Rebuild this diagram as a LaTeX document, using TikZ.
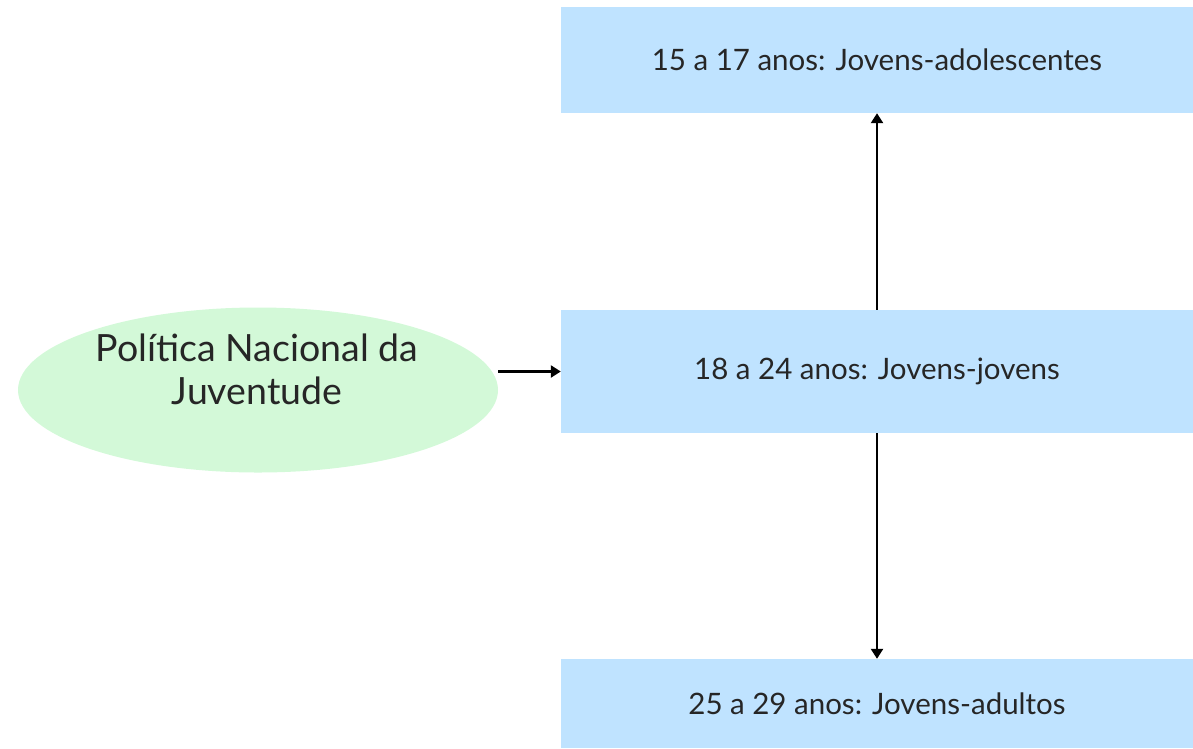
\documentclass[tikz,border=0pt]{standalone}
\usepackage{fontspec}
\setmainfont{Lato}
\usetikzlibrary{shapes.geometric,arrows.meta}
\definecolor{caixa}{HTML}{BFE3FF}
\definecolor{elipse}{HTML}{D3F9D8}
\definecolor{texto}{HTML}{262626}

\begin{document}
\begin{tikzpicture}[x=1pt,y=-1pt,
  faixa/.style={rectangle,fill=caixa,minimum width=632pt,inner sep=0pt,
    text=texto,font=\fontsize{29.5}{34}\selectfont},
  seta/.style={line width=2.4pt,-{Triangle[length=10pt,width=12pt]}}]
\useasboundingbox (0,0) rectangle (1193,748);
%% faixas etarias;
\node[faixa,minimum height=106pt] (adol) at (877,60) {15 a 17 anos: Jovens-adolescentes};
\node[faixa,minimum height=123pt] (jov) at (877,371.5) {18 a 24 anos: Jovens-jovens};
\node[faixa,minimum height=89pt] (adul) at (877,703.5) {25 a 29 anos: Jovens-adultos};
%% politica;
\node[ellipse,fill=elipse,minimum width=480pt,minimum height=165pt,inner sep=0pt] (pnj) at (258,390) {};
\node[align=center,text=texto,font=\fontsize{37.5}{43}\selectfont] (pnjtxt) at (257,369) {Política Nacional da\\Juventude};
%% setas;
\draw[seta] (pnj.east |- jov.west) -- (jov.west);
\draw[seta] (jov.north) -- (adol.south);
\draw[seta] (jov.south) -- (adul.north);
\end{tikzpicture}
\end{document}
